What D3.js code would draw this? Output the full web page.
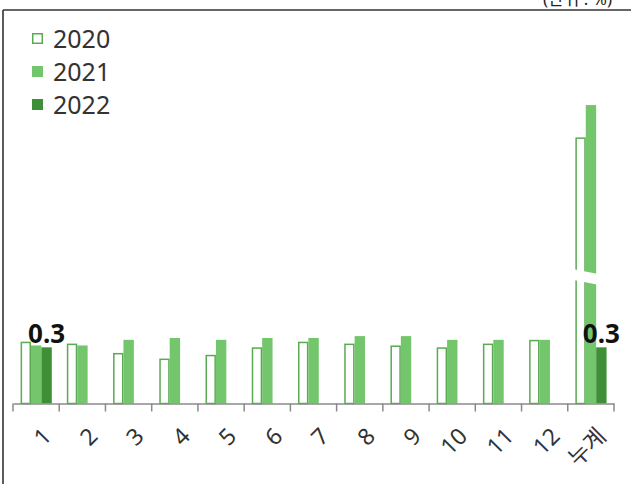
<!DOCTYPE html>
<html>
<head>
<meta charset="utf-8">
<script src="https://cdn.jsdelivr.net/npm/d3@7"></script>
<style>
  html, body { margin: 0; padding: 0; background: #fff; }
  svg { display: block; font-family: "Noto Sans", "Noto Sans CJK KR", sans-serif; }
</style>
</head>
<body>
<svg id="chart" width="631" height="484"></svg>
<script>
// ---- data ----
const categories = ["1", "2", "3", "4", "5", "6", "7", "8", "9", "10", "11", "12", "누계"];
const seriesNames = ["2020", "2021", "2022"];
const values2020 = [0.33, 0.32, 0.27, 0.24, 0.26, 0.30, 0.33, 0.32, 0.31, 0.30, 0.32, 0.34, 3.6];
const values2021 = [0.31, 0.31, 0.34, 0.35, 0.34, 0.35, 0.35, 0.36, 0.36, 0.34, 0.34, 0.34, 4.1];
const values2022 = [0.3, null, null, null, null, null, null, null, null, null, null, null, 0.3];
const dataLabels2022 = ["0.3", null, null, null, null, null, null, null, null, null, null, null, "0.3"];
const unitLabel = "(단위 : %)";

const seriesValues = [values2020, values2021, values2022];
const colors = { "2020": "#ffffff", "2021": "#74c66c", "2022": "#3f8f38" };
const strokeColor = "#5aaa52";

const svg = d3.select("#chart");
const W = 631, H = 484;
const baseY = 403.5;

// x scales
const x0 = d3.scaleBand().domain(categories).range([13, 614]).paddingInner(0).paddingOuter(0);
const x1 = d3.scaleBand().domain(seriesNames).range([7.6, 38.8]).padding(0);

// broken (piecewise) y scale: lower segment, gap, upper segment
const y = d3.scaleLinear()
  .domain([0, 0.65, 1.55, 4.5])
  .range([baseY, 281.8, 270.0, 79.2]);

// frame
svg.append("line").attr("x1", 3).attr("x2", W).attr("y1", 10).attr("y2", 10)
  .attr("stroke", "#333").attr("stroke-width", 1.6);
svg.append("line").attr("x1", 3).attr("x2", 3).attr("y1", 10).attr("y2", H)
  .attr("stroke", "#333").attr("stroke-width", 1.6);

// unit label (clipped at top, as in the source)
svg.append("text").attr("x", 612).attr("y", 5).attr("text-anchor", "end")
  .attr("font-size", 17).attr("fill", "#222").text(unitLabel);

// bars
const rows = categories.map((c, i) => ({ cat: c, vals: seriesNames.map((s, k) => ({ s, v: seriesValues[k][i], label: k === 2 ? dataLabels2022[i] : null })) }));
const g = svg.append("g");
const groups = g.selectAll("g.cat").data(rows).join("g")
  .attr("transform", d => `translate(${x0(d.cat)},0)`);

groups.selectAll("rect").data(d => d.vals.filter(e => e.v != null)).join("rect")
  .attr("x", d => x1(d.s) + (d.s === "2020" ? 0.75 : 0))
  .attr("width", d => x1.bandwidth() - (d.s === "2020" ? 1.5 : 0))
  .attr("y", d => y(d.v) + (d.s === "2020" ? 0.75 : 0))
  .attr("height", d => baseY - y(d.v) - (d.s === "2020" ? 0.75 : 0))
  .attr("fill", d => colors[d.s])
  .attr("stroke", d => d.s === "2020" ? strokeColor : "none")
  .attr("stroke-width", 1.5);

// axis break over cumulative bars
const lastCat = categories[categories.length - 1];
const bx0 = x0(lastCat) + x1("2020") - 3;
const bx1 = x0(lastCat) + x1("2021") + x1.bandwidth() + 2;
const gapTop = y(1.55), gapBot = y(0.65);
svg.append("path")
  .attr("d", `M${bx0},${gapTop - 1} L${bx1},${gapTop + 4} L${bx1},${gapBot + 3} L${bx0},${gapBot - 2} Z`)
  .attr("fill", "#ffffff");

// data labels
groups.selectAll("text.lbl").data(d => d.vals.filter(e => e.label)).join("text")
  .attr("class", "lbl")
  .attr("x", d => x1(d.s) + x1.bandwidth() / 2)
  .attr("y", d => y(d.v) - 4)
  .attr("text-anchor", "middle")
  .attr("font-size", 26).attr("font-weight", "bold").attr("fill", "#111")
  .text(d => d.label);

// x axis
const axis = svg.append("g").attr("transform", `translate(0,${baseY})`)
  .call(d3.axisBottom(x0).tickSize(0).tickFormat(""));
axis.select(".domain").attr("stroke", "#8a8a8a").attr("stroke-width", 1.5);
const tickPos = categories.map(c => x0(c)).concat([x0.range()[1]]);
axis.selectAll("line.sep").data(tickPos).join("line").attr("class", "sep")
  .attr("x1", d => d).attr("x2", d => d).attr("y1", 0).attr("y2", 8)
  .attr("stroke", "#8a8a8a").attr("stroke-width", 1.5);

svg.append("g").selectAll("text.tick").data(categories).join("text")
  .attr("class", "tick")
  .attr("transform", d => `translate(${x0(d) + x0.bandwidth() / 2 + 11},${432}) rotate(-45)`)
  .attr("text-anchor", "end")
  .attr("dy", "0.35em")
  .attr("font-size", 23).attr("fill", "#333")
  .text(d => d);

// legend
const legend = svg.append("g");
seriesNames.forEach((s, i) => {
  const ly = 48 + i * 33;
  legend.append("rect")
    .attr("x", s === "2020" ? 32.75 : 32).attr("y", ly - 15 + (s === "2020" ? 0.75 : 0))
    .attr("width", s === "2020" ? 9.5 : 11).attr("height", s === "2020" ? 9.5 : 11)
    .attr("fill", colors[s])
    .attr("stroke", s === "2020" ? strokeColor : "none").attr("stroke-width", 1.5);
  legend.append("text").attr("x", 53).attr("y", ly)
    .attr("font-size", 25).attr("fill", "#333").text(s);
});
</script>
</body>
</html>
